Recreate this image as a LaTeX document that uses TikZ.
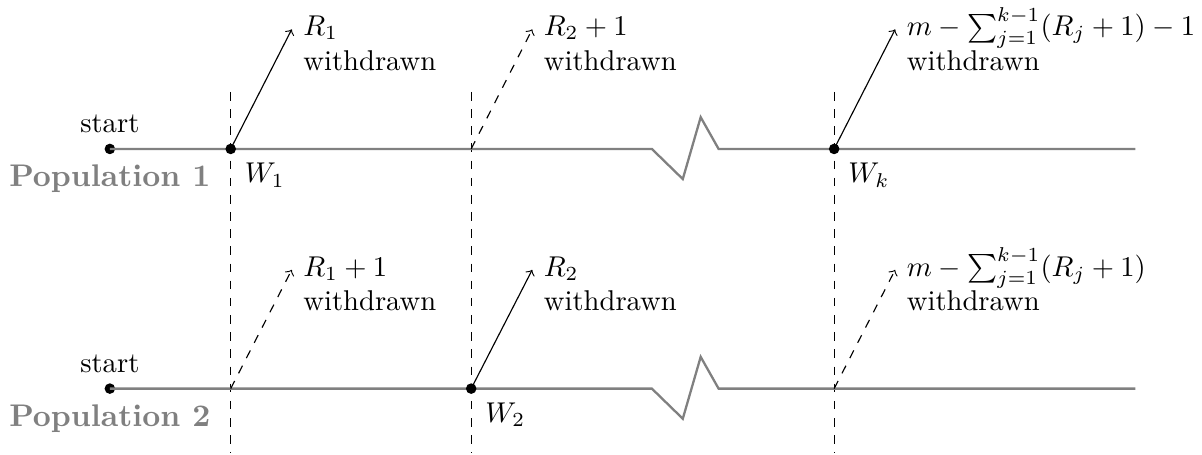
\documentclass[tikz,border=0pt]{standalone}
\usetikzlibrary{positioning}

\begin{document}
\begin{tikzpicture}[
  dot/.style={circle,fill,inner sep=0pt,minimum size=3.7pt},
  popline/.style={gray,line width=0.8pt},
  cut/.style={dashed},
  removal/.style={->},
  note/.style={anchor=base west,align=left,xshift=0.02cm,yshift=-0.5cm},
  poplabel/.style={font=\fontsize{10.95}{13.6}\selectfont\bfseries,text=gray,below=0.07cm}
]
  \useasboundingbox (-1.35,-3.755) rectangle (13.42,1.83);

  % cut times
  \coordinate (cut1top) at (1.485,0.70);  \coordinate (cut1bot) at (1.485,-3.74);
  \coordinate (cut2top) at (4.44,0.70);   \coordinate (cut2bot) at (4.44,-3.74);
  \coordinate (cutktop) at (8.9,0.70);    \coordinate (cutkbot) at (8.9,-3.74);
  \draw[cut] (cut1top) -- (cut1bot);
  \draw[cut] (cut2top) -- (cut2bot);
  \draw[cut] (cutktop) -- (cutkbot);

  % population 1
  \node[dot] (start1) at (0,0) {};
  \coordinate (end1) at (12.6,0);
  \draw[popline] (start1.center) -- (6.66,0) -- (7.04,-0.37) -- (7.26,0.39) -- (7.48,0) -- (end1);
  \node[dot] (w1) at (1.485,0) {};
  \coordinate (p12) at (4.44,0);
  \node[dot] (wk) at (8.9,0) {};
  \node[above=0pt of start1] (startlab1) {start};
  \node[poplabel] (pop1) at (start1) {Population 1};
  \node[below right=0pt of w1] (w1lab) {$W_1$};
  \node[below right=0pt of wk] (wklab) {$W_k$};
  \draw[removal] (w1.center) -- ++(0.75,1.47) coordinate (tip11)
    node[note] {$R_1$\\withdrawn};
  \draw[removal,dashed] (p12) -- ++(0.75,1.47) coordinate (tip12)
    node[note] {$R_2+1$\\withdrawn};
  \draw[removal] (wk.center) -- ++(0.75,1.47) coordinate (tip1k)
    node[note] {$m-\sum_{j=1}^{k-1}(R_j+1)-1$\\withdrawn};

  % population 2
  \node[dot] (start2) at (0,-2.945) {};
  \coordinate (end2) at (12.6,-2.945);
  \draw[popline] (start2.center) -- (6.66,-2.945) -- (7.04,-3.315) -- (7.26,-2.555) -- (7.48,-2.945) -- (end2);
  \coordinate (p21) at (1.485,-2.945);
  \node[dot] (w2) at (4.44,-2.945) {};
  \coordinate (p2k) at (8.9,-2.945);
  \node[above=0pt of start2] (startlab2) {start};
  \node[poplabel] (pop2) at (start2) {Population 2};
  \node[below right=0pt of w2] (w2lab) {$W_2$};
  \draw[removal,dashed] (p21) -- ++(0.75,1.46) coordinate (tip21)
    node[note] {$R_1+1$\\withdrawn};
  \draw[removal] (w2.center) -- ++(0.75,1.46) coordinate (tip22)
    node[note] {$R_2$\\withdrawn};
  \draw[removal,dashed] (p2k) -- ++(0.75,1.46) coordinate (tip2k)
    node[note] {$m-\sum_{j=1}^{k-1}(R_j+1)$\\withdrawn};
\end{tikzpicture}
\end{document}
